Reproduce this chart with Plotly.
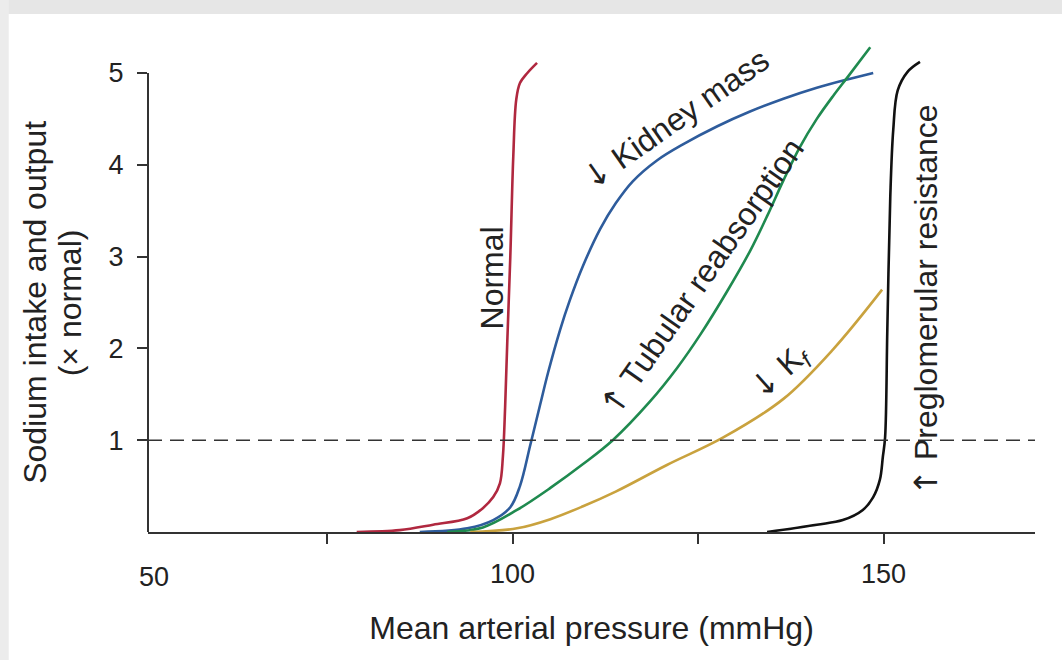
import plotly.graph_objects as go

# ---- data ----
normal_x = [79.0, 84.8, 89.3, 93.9, 96.0, 97.4, 98.3, 98.7, 99.0, 99.3, 99.7, 100.1, 100.5, 101.0, 102.0, 103.3]
normal_y = [0.0, 0.02, 0.08, 0.15, 0.26, 0.38, 0.53, 0.82, 1.36, 2.09, 3.0, 4.09, 4.71, 4.89, 5.0, 5.11]

kidney_x = [87.5, 93.9, 97.4, 99.7, 101.0, 102.4, 103.7, 104.8, 106.4, 107.7, 109.5, 111.8, 113.9, 116.2, 119.5, 122.9, 127.6, 132.0, 136.5, 141.0, 145.1, 148.6]
kidney_y = [0.0, 0.04, 0.13, 0.27, 0.50, 0.95, 1.38, 1.74, 2.20, 2.52, 2.90, 3.30, 3.58, 3.82, 4.05, 4.22, 4.42, 4.58, 4.72, 4.84, 4.93, 5.0]

tubular_x = [91.2, 96.0, 100.6, 105.1, 109.5, 113.5, 118.5, 122.2, 125.3, 128.9, 132.0, 134.3, 136.5, 138.7, 141.0, 143.2, 145.2, 148.2]
tubular_y = [0.0, 0.05, 0.24, 0.48, 0.74, 1.0, 1.42, 1.79, 2.15, 2.62, 3.06, 3.44, 3.83, 4.19, 4.50, 4.75, 4.96, 5.28]

kf_x = [94.3, 100.6, 105.1, 109.5, 113.9, 120.8, 128.4, 136.5, 143.2, 149.8]
kf_y = [0.0, 0.04, 0.14, 0.28, 0.44, 0.73, 1.03, 1.45, 1.99, 2.64]

pregl_x = [134.3, 141.0, 144.5, 147.2, 148.6, 149.5, 149.9, 150.2, 150.5, 150.9, 151.3, 151.9, 153.2, 154.9]
pregl_y = [0.0, 0.08, 0.13, 0.24, 0.38, 0.57, 0.82, 1.03, 2.2, 3.65, 4.38, 4.81, 5.01, 5.12]

reference_level = 1
x_tick_vals = [75, 100, 125, 150]
x_tick_text = ["", "100", "", "150"]
y_tick_vals = [1, 2, 3, 4, 5]
x_range = [50.88, 170.4]
y_range = [0, 5.468]

FONT = "Liberation Sans, Arial, Helvetica, sans-serif"
TXT = "#222222"
LBL = 32

series = [
    (normal_x, normal_y, "#B0283F"),
    (kidney_x, kidney_y, "#2E5C9C"),
    (tubular_x, tubular_y, "#1F8A4F"),
    (kf_x, kf_y, "#C9A23E"),
    (pregl_x, pregl_y, "#111111"),
]

fig = go.Figure()
for xs, ys, col in series:
    fig.add_trace(go.Scatter(x=xs, y=ys, mode="lines",
                             line=dict(color=col, width=2.6, shape="spline", smoothing=1.0),
                             showlegend=False, hoverinfo="skip"))

# dashed reference line at 1 x normal
fig.add_shape(type="line", xref="paper", x0=0, x1=1, yref="y", y0=reference_level, y1=reference_level,
              line=dict(color="#333333", width=1.6, dash="14px,8px"))
# y axis line from 0 to 5
fig.add_shape(type="line", xref="paper", x0=0, x1=0, yref="y", y0=0, y1=5,
              line=dict(color="#333333", width=2))

# faint watermark bands of the reference
fig.add_shape(type="rect", xref="paper", yref="paper", x0=-0.17, x1=1.04, y0=1.032, y1=1.07,
              fillcolor="#e6e6e6", line=dict(width=0), layer="below")
fig.add_shape(type="rect", xref="paper", yref="paper", x0=-0.17, x1=-0.157, y0=-0.26, y1=1.07,
              fillcolor="#ececec", line=dict(width=0), layer="below")

ARW = '<span style="font-family:DejaVu Sans">{}</span>'
ann = dict(showarrow=False, font=dict(family=FONT, size=LBL, color=TXT), xanchor="center", yanchor="middle")
fig.add_annotation(x=97.2, y=2.77, text="Normal", textangle=-90, **ann)
fig.add_annotation(x=122.0, y=4.50, text=ARW.format("↓") + " Kidney mass", textangle=-35, **ann)
fig.add_annotation(x=125.5, y=2.78, text=ARW.format("↑") + " Tubular reabsorption", textangle=-55, **ann)
fig.add_annotation(x=136.2, y=1.74, text=ARW.format("↓") + " K<sub><i>f</i></sub>", textangle=-42, **ann)
fig.add_annotation(x=155.6, y=2.52, text=ARW.format("↑") + " Preglomerular resistance", textangle=-90, **ann)

# "50" label at the axis origin
fig.add_annotation(x=51.7, xref="x", y=-0.09, yref="paper", text="50", xanchor="center", yanchor="middle",
                   showarrow=False, font=dict(family=FONT, size=27, color=TXT))

# y-axis title (two lines)
fig.add_annotation(x=-0.127, xref="paper", y=2.5, yref="y", text="Sodium intake and output",
                   textangle=-90, **ann)
fig.add_annotation(x=-0.087, xref="paper", y=2.5, yref="y", text="(× normal)",
                   textangle=-90, **ann)

fig.update_layout(
    width=1062, height=660,
    margin=dict(l=148, r=27, t=30, b=128),
    paper_bgcolor="white", plot_bgcolor="white",
    font=dict(family=FONT, color=TXT),
    xaxis=dict(range=x_range, showgrid=False, zeroline=False, showline=True,
               linecolor="#333333", linewidth=2, ticks="outside", ticklen=10,
               tickwidth=2, tickcolor="#333333", tickvals=x_tick_vals, ticktext=x_tick_text,
               ticklabelstandoff=7,
               tickfont=dict(size=27, family=FONT, color=TXT),
               title=dict(text="Mean arterial pressure (mmHg)", font=dict(size=LBL, family=FONT, color=TXT),
                          standoff=28)),
    yaxis=dict(range=y_range, showgrid=False, zeroline=False, showline=False,
               ticks="outside", ticklen=10, tickwidth=2, tickcolor="#333333",
               ticklabelstandoff=8,
               tickvals=y_tick_vals, tickfont=dict(size=27, family=FONT, color=TXT)),
)

fig.write_html("out.html", config={"displayModeBar": False},
               post_script="document.body.style.margin='0px';")
